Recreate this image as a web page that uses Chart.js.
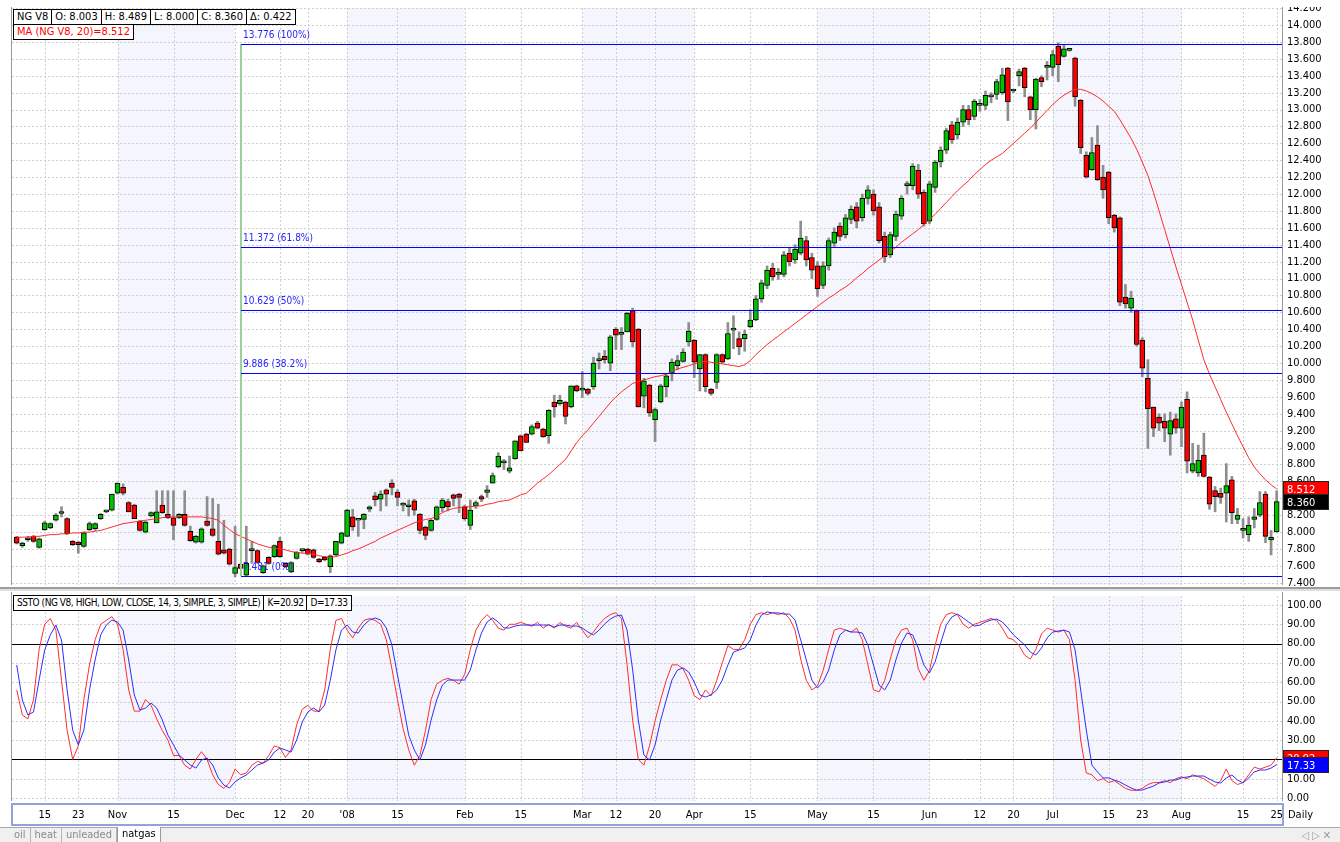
<!doctype html>
<html>
<head>
<meta charset="utf-8">
<title>NG V8 - Daily</title>
<script src="https://cdn.jsdelivr.net/npm/chart.js@4.4.1/dist/chart.umd.min.js"></script>
<style>
  body { margin:0; width:1340px; height:842px; overflow:hidden; position:relative; background:#fff;
         font-family:"Liberation Sans Narrow","DejaVu Sans Condensed","Liberation Sans",sans-serif; font-size:11px; color:#000; }
  canvas { position:absolute; left:0; }
  #price { top:7px; }
  #stoch { top:592px; }
  .hdr { position:absolute; display:flex; height:16px; line-height:14px; border:1px solid #000; background:#fff; box-sizing:border-box; white-space:nowrap; }
  .hdr span { padding:0 3px; border-right:1px solid #000; }
  .hdr span:last-child { border-right:none; }
  #hdr3 { font-size:10px; letter-spacing:-0.45px; }
  #sep { position:absolute; left:0; top:587px; width:1340px; height:2px; background:#9c9c9c; border-bottom:2px solid #dedede; }
  #dateBox { position:absolute; left:11px; top:803px; width:1273px; height:23px; border:2px solid #8ea4dc; box-sizing:border-box; background:#fff; }
  .dl { position:absolute; top:808px; transform:translateX(-50%); }
  #daily { position:absolute; left:1288px; top:808px; }
  #tabs { position:absolute; left:0; top:827px; width:1340px; height:15px; background:#f0f0f0; border-top:1px solid #a8a8a8; }
  #tabRow { position:absolute; left:10px; top:0; display:flex; height:15px; line-height:14px; color:#8a8a8a; white-space:nowrap; }
  #tabRow span { padding:0 4px; border-right:1px solid #b4b4b4; }
  #tabRow span.on { color:#000; background:#fff; border:1px solid #9a9a9a; border-top:none; margin-top:-1px; height:15px; padding:0 4px; }
  #arrows { position:absolute; right:6px; top:1px; color:#999; letter-spacing:3px; }
</style>
</head>
<body>
<canvas id="price" width="1340" height="583"></canvas>
<div id="sep"></div>
<canvas id="stoch" width="1340" height="209"></canvas>
<div class="hdr" id="hdr1" style="left:13px;top:9px;"></div>
<div class="hdr" id="hdr2" style="left:13px;top:24px;color:#ff0000;"></div>
<div class="hdr" id="hdr3" style="left:13px;top:595px;"></div>
<div id="dateBox"></div>
<div id="daily">Daily</div>
<div id="tabs">
  <div id="tabRow"><span>oil</span><span>heat</span><span>unleaded</span><span class="on">natgas</span></div>
  <span id="arrows">&#9665;&#9655;&#10005;</span>
</div>
<script>
// ---- data (NG V8 daily, Oct 2007 - Aug 2008) ----
const open = [
  7.94, 7.84, 7.91, 7.95, 7.82, 8.03, 8.05, 8.14, 8.22, 8.16,
  7.89, 7.88, 7.83, 8.03, 8.04, 8.16, 8.24, 8.26, 8.46, 8.53,
  8.35, 8.32, 8.13, 8.00, 8.19, 8.11, 8.32, 8.21, 8.17, 8.17,
  8.21, 8.01, 7.88, 7.88, 8.13, 8.04, 7.89, 7.79, 7.80, 7.51,
  7.62, 7.49, 7.78, 7.78, 7.52, 7.70, 7.71, 7.89, 7.63, 7.53,
  7.69, 7.78, 7.80, 7.79, 7.68, 7.70, 7.59, 7.73, 7.87, 7.95,
  8.18, 8.14, 8.15, 8.27, 8.43, 8.39, 8.50, 8.58, 8.47, 8.32,
  8.30, 8.37, 8.21, 8.06, 8.02, 8.15, 8.29, 8.36, 8.44, 8.45,
  8.30, 8.08, 8.31, 8.42, 8.47, 8.58, 8.77, 8.82, 8.72, 8.87,
  9.14, 9.16, 9.16, 9.29, 9.22, 9.14, 9.54, 9.52, 9.54, 9.48,
  9.73, 9.68, 9.69, 9.72, 10.03, 10.08, 10.00, 10.40, 10.34, 10.37,
  10.62, 10.40, 9.61, 9.74, 9.33, 9.54, 9.72, 9.88, 9.97, 10.02,
  10.25, 10.27, 9.93, 10.10, 9.69, 9.77, 10.10, 10.05, 10.39, 10.29,
  10.29, 10.43, 10.51, 10.76, 10.92, 11.12, 11.05, 11.05, 11.30, 11.22,
  11.30, 11.45, 11.25, 11.15, 10.92, 11.15, 11.42, 11.62, 11.52, 11.70,
  11.85, 11.72, 11.95, 12.00, 11.85, 11.50, 11.28, 11.50, 11.74, 12.10,
  12.10, 12.28, 12.02, 11.68, 12.08, 12.38, 12.52, 12.82, 12.70, 12.85,
  13.00, 12.92, 13.05, 13.05, 13.15, 13.18, 13.20, 13.49, 13.22, 13.40,
  13.49, 13.15, 13.00, 13.38, 13.50, 13.50, 13.75, 13.63, 13.70, 13.61,
  13.11, 12.46, 12.29, 12.58, 12.20, 12.26, 11.75, 11.72, 10.78, 10.65,
  10.62, 10.27, 9.82, 9.48, 9.36, 9.31, 9.16, 9.34, 9.23, 9.57,
  8.72, 8.70, 8.91, 8.65, 8.49, 8.46, 8.46, 8.62, 8.15, 8.02,
  7.97, 8.15, 8.20, 8.45, 7.906, 8.003
];
const high = [
  7.95, 7.88, 7.95, 7.96, 7.93, 8.13, 8.11, 8.22, 8.30, 8.17,
  7.90, 7.89, 8.00, 8.12, 8.11, 8.22, 8.26, 8.45, 8.58, 8.57,
  8.36, 8.33, 8.14, 8.13, 8.24, 8.49, 8.49, 8.49, 8.49, 8.22,
  8.49, 8.07, 7.96, 8.05, 8.42, 8.40, 8.33, 8.14, 7.81, 8.07,
  7.63, 8.07, 7.89, 7.79, 7.61, 7.71, 7.85, 7.94, 7.64, 7.65,
  7.77, 7.79, 7.81, 7.80, 7.69, 7.71, 7.73, 7.89, 8.00, 8.27,
  8.27, 8.14, 8.22, 8.31, 8.47, 8.49, 8.51, 8.62, 8.50, 8.35,
  8.38, 8.39, 8.22, 8.07, 8.15, 8.31, 8.40, 8.39, 8.45, 8.46,
  8.32, 8.38, 8.37, 8.44, 8.55, 8.70, 8.94, 8.86, 8.90, 9.08,
  9.15, 9.17, 9.27, 9.31, 9.23, 9.45, 9.62, 9.62, 9.55, 9.73,
  9.74, 9.90, 9.70, 10.07, 10.12, 10.15, 10.33, 10.42, 10.42, 10.60,
  10.65, 10.41, 9.82, 9.75, 9.47, 9.75, 9.87, 10.05, 10.09, 10.17,
  10.48, 10.28, 10.10, 10.11, 9.70, 10.11, 10.11, 10.48, 10.56, 10.37,
  10.39, 10.63, 10.80, 10.98, 11.15, 11.18, 11.12, 11.32, 11.36, 11.40,
  11.68, 11.50, 11.30, 11.20, 11.20, 11.48, 11.60, 11.66, 11.76, 11.86,
  11.90, 12.00, 12.10, 12.05, 11.90, 11.55, 11.55, 11.80, 11.98, 12.15,
  12.36, 12.35, 12.05, 12.15, 12.40, 12.56, 12.78, 12.86, 12.90, 13.05,
  13.05, 13.12, 13.12, 13.22, 13.20, 13.36, 13.49, 13.50, 13.24, 13.48,
  13.50, 13.16, 13.37, 13.40, 13.57, 13.70, 13.79, 13.76, 13.71, 13.62,
  13.12, 12.50, 12.67, 12.81, 12.34, 12.27, 11.76, 11.73, 10.93, 10.85,
  10.63, 10.30, 10.04, 9.48, 9.40, 9.40, 9.42, 9.40, 9.54, 9.66,
  9.05, 9.03, 9.17, 8.66, 8.54, 8.52, 8.81, 8.66, 8.28, 8.16,
  8.18, 8.28, 8.48, 8.48, 8.02, 8.489
];
const low = [
  7.86, 7.82, 7.89, 7.88, 7.81, 8.02, 8.04, 8.13, 8.18, 7.97,
  7.84, 7.75, 7.82, 8.02, 8.02, 8.15, 8.23, 8.25, 8.45, 8.44,
  8.24, 8.16, 8.01, 7.99, 8.18, 8.11, 8.22, 8.16, 7.91, 8.16,
  8.07, 7.89, 7.87, 7.87, 8.07, 7.95, 7.73, 7.74, 7.61, 7.47,
  7.56, 7.48, 7.63, 7.63, 7.51, 7.62, 7.70, 7.70, 7.58, 7.52,
  7.68, 7.76, 7.73, 7.69, 7.64, 7.66, 7.52, 7.72, 7.86, 7.95,
  8.02, 7.95, 8.04, 8.24, 8.31, 8.25, 8.31, 8.44, 8.31, 8.25,
  8.19, 8.20, 7.98, 7.91, 8.01, 8.14, 8.24, 8.25, 8.31, 8.23,
  8.14, 8.03, 8.28, 8.36, 8.41, 8.58, 8.76, 8.74, 8.70, 8.86,
  8.96, 9.06, 9.15, 9.22, 9.12, 9.05, 9.36, 9.50, 9.28, 9.47,
  9.66, 9.59, 9.62, 9.69, 9.93, 10.00, 9.91, 10.16, 10.16, 10.37,
  10.19, 9.48, 9.47, 9.37, 9.07, 9.53, 9.60, 9.79, 9.92, 10.01,
  10.20, 9.83, 9.67, 9.66, 9.62, 9.70, 10.00, 10.04, 10.17, 10.10,
  10.14, 10.42, 10.50, 10.72, 10.88, 10.98, 10.99, 11.02, 11.15, 11.18,
  11.28, 11.15, 11.00, 10.79, 10.88, 11.10, 11.38, 11.45, 11.48, 11.65,
  11.60, 11.68, 11.88, 11.75, 11.42, 11.19, 11.25, 11.45, 11.70, 12.00,
  12.05, 11.95, 11.62, 11.65, 12.02, 12.32, 12.48, 12.60, 12.65, 12.80,
  12.82, 12.88, 12.98, 13.00, 13.08, 13.12, 13.18, 12.87, 13.20, 13.28,
  13.15, 12.88, 12.77, 13.27, 13.35, 13.40, 13.33, 13.62, 13.69, 13.04,
  12.48, 12.19, 12.28, 12.16, 11.95, 11.65, 11.55, 10.68, 10.65, 10.60,
  10.20, 9.84, 8.99, 9.13, 9.20, 9.07, 8.91, 9.17, 9.01, 8.70,
  8.70, 8.66, 8.65, 8.27, 8.24, 8.34, 8.12, 8.10, 8.10, 7.93,
  7.89, 8.05, 8.18, 7.875, 7.73, 8.000
];
const close = [
  7.87, 7.87, 7.93, 7.89, 7.92, 8.11, 8.10, 8.20, 8.22, 7.98,
  7.85, 7.85, 7.99, 8.10, 8.10, 8.21, 8.24, 8.45, 8.58, 8.46,
  8.24, 8.16, 8.02, 8.12, 8.23, 8.24, 8.23, 8.17, 8.08, 8.21,
  8.08, 7.90, 7.95, 8.04, 8.08, 7.96, 7.74, 7.75, 7.62, 7.58,
  7.57, 7.63, 7.78, 7.64, 7.60, 7.63, 7.84, 7.71, 7.59, 7.64,
  7.76, 7.78, 7.74, 7.70, 7.65, 7.67, 7.72, 7.89, 7.99, 8.26,
  8.06, 8.14, 8.21, 8.30, 8.38, 8.45, 8.45, 8.53, 8.41, 8.34,
  8.30, 8.26, 8.02, 7.96, 8.14, 8.30, 8.38, 8.30, 8.40, 8.41,
  8.16, 8.26, 8.35, 8.39, 8.50, 8.67, 8.90, 8.82, 8.76, 9.08,
  8.96, 9.06, 9.25, 9.23, 9.13, 9.44, 9.48, 9.56, 9.37, 9.73,
  9.67, 9.68, 9.64, 10.00, 10.03, 10.04, 10.31, 10.33, 10.34, 10.59,
  10.25, 9.48, 9.79, 9.41, 9.45, 9.73, 9.85, 10.01, 10.03, 10.13,
  10.38, 10.01, 10.10, 9.72, 9.64, 10.10, 10.01, 10.35, 10.39, 10.19,
  10.34, 10.51, 10.76, 10.95, 11.10, 11.02, 11.05, 11.28, 11.20, 11.35,
  11.48, 11.22, 11.10, 10.88, 11.15, 11.45, 11.55, 11.50, 11.72, 11.82,
  11.68, 11.95, 12.05, 11.80, 11.45, 11.26, 11.52, 11.76, 11.95, 12.10,
  12.33, 12.00, 11.65, 12.12, 12.38, 12.52, 12.75, 12.64, 12.85, 13.00,
  12.88, 13.10, 13.05, 13.17, 13.15, 13.33, 13.41, 13.09, 13.22, 13.45,
  13.26, 13.00, 13.36, 13.33, 13.50, 13.65, 13.53, 13.72, 13.70, 13.15,
  12.55, 12.20, 12.49, 12.17, 12.05, 11.72, 11.60, 10.72, 10.70, 10.77,
  10.22, 9.94, 9.46, 9.23, 9.29, 9.23, 9.32, 9.23, 9.48, 8.84,
  8.81, 8.85, 8.66, 8.33, 8.42, 8.41, 8.55, 8.23, 8.20, 8.02,
  8.08, 8.18, 8.35, 7.95, 7.938, 8.360
];
// MA (NG V8, 20) as drawn
const ma20 = [
  7.94, 7.94, 7.94, 7.95, 7.95, 7.96, 7.97, 7.97, 7.98, 7.98,
  7.99, 7.99, 8.00, 8.00, 8.01, 8.02, 8.04, 8.06, 8.08, 8.10,
  8.11, 8.12, 8.13, 8.14, 8.15, 8.16, 8.17, 8.18, 8.18, 8.18,
  8.18, 8.18, 8.18, 8.18, 8.17, 8.16, 8.14, 8.08, 8.03, 7.98,
  7.95, 7.92, 7.89, 7.86, 7.84, 7.82, 7.81, 7.80, 7.79, 7.77,
  7.76, 7.75, 7.75, 7.74, 7.72, 7.71, 7.70, 7.71, 7.73, 7.75,
  7.78, 7.80, 7.83, 7.86, 7.89, 7.93, 7.96, 7.99, 8.02, 8.05,
  8.08, 8.11, 8.13, 8.15, 8.16, 8.19, 8.23, 8.26, 8.28, 8.29,
  8.30, 8.30, 8.31, 8.31, 8.33, 8.34, 8.36, 8.37, 8.38, 8.41,
  8.44, 8.46, 8.52, 8.58, 8.63, 8.68, 8.74, 8.80, 8.86, 8.96,
  9.06, 9.14, 9.21, 9.29, 9.37, 9.45, 9.53, 9.60, 9.66, 9.71,
  9.76, 9.78, 9.80, 9.82, 9.84, 9.85, 9.87, 9.90, 9.93, 9.95,
  9.97, 9.99, 10.01, 10.02, 10.01, 10.00, 9.99, 9.98, 9.97, 9.96,
  9.98, 10.03, 10.10, 10.16, 10.22, 10.27, 10.32, 10.37, 10.42, 10.47,
  10.52, 10.57, 10.62, 10.67, 10.72, 10.77, 10.81, 10.86, 10.90, 10.95,
  11.01, 11.06, 11.12, 11.17, 11.22, 11.27, 11.32, 11.37, 11.43, 11.48,
  11.53, 11.58, 11.64, 11.70, 11.76, 11.83, 11.90, 11.97, 12.04, 12.10,
  12.16, 12.23, 12.29, 12.35, 12.40, 12.44, 12.48, 12.54, 12.60, 12.66,
  12.72, 12.78, 12.85, 12.92, 12.99, 13.06, 13.12, 13.17, 13.21, 13.24,
  13.24, 13.22, 13.19, 13.15, 13.10, 13.04, 12.98, 12.88, 12.77, 12.66,
  12.53, 12.38, 12.22, 12.02, 11.80, 11.58, 11.36, 11.14, 10.93, 10.72,
  10.51, 10.27, 10.04, 9.87, 9.72, 9.57, 9.42, 9.28, 9.14, 9.01,
  8.88, 8.77, 8.69, 8.62, 8.56, 8.512
];
// SSTO %K and %D as drawn
const kVals = [
  56, 43, 41, 51, 77, 90, 93, 87, 61, 35,
  20, 27, 51, 69, 82, 90, 92, 94, 90, 77,
  56, 45, 45, 51, 48, 41, 35, 30, 22, 22,
  17, 15, 20, 24, 20, 12, 7, 5, 8, 15,
  12, 13, 17, 19, 18, 22, 27, 26, 21, 25,
  38, 46, 48, 45, 45, 56, 77, 92, 93, 87,
  83, 88, 92, 93, 92, 90, 82, 67, 51, 36,
  25, 17, 22, 35, 51, 59, 61, 62, 61, 59,
  64, 77, 87, 92, 95, 92, 88, 87, 90, 90,
  91, 90, 89, 91, 88, 90, 88, 91, 89, 88,
  91, 87, 83, 86, 90, 93, 95, 96, 93, 69,
  40, 20, 17, 27, 40, 51, 61, 69, 69, 67,
  61, 53, 51, 56, 53, 61, 70, 79, 77, 77,
  82, 90, 95, 96, 95, 96, 95, 96, 93, 87,
  72, 61, 56, 58, 66, 77, 87, 88, 87, 86,
  88, 82, 69, 56, 55, 61, 72, 82, 87, 88,
  82, 67, 61, 66, 79, 90, 95, 96, 95, 90,
  88, 90, 91, 92, 93, 92, 88, 83, 82, 79,
  74, 72, 77, 85, 88, 87, 86, 87, 82, 61,
  30, 13, 12, 9, 10, 8, 9, 7, 5, 4,
  4, 5, 7, 8, 8, 9, 8, 10, 11, 10,
  12, 11, 10, 8, 6, 9, 15, 9, 7, 8,
  12, 16, 15, 16, 17, 20.92
];
const dVals = [
  68.9, 50.8, 43.0, 44.6, 61.1, 76.7, 84.5, 89.6, 81.9, 56.0,
  35.2, 27.5, 35.2, 56.0, 71.5, 84.5, 89.6, 92.2, 91.2, 87.0,
  71.5, 53.4, 45.6, 46.6, 49.2, 46.6, 40.4, 32.6, 27.5, 22.3,
  19.7, 17.1, 15.5, 19.7, 20.7, 17.1, 10.4, 6.7, 5.2, 8.3,
  10.4, 11.9, 14.5, 17.1, 18.1, 19.7, 23.8, 25.9, 24.9, 23.8,
  30.1, 39.4, 44.6, 46.6, 44.6, 48.2, 61.1, 76.7, 87.0, 89.6,
  86.0, 85.5, 89.6, 92.2, 93.3, 92.2, 88.1, 79.3, 63.7, 48.2,
  32.6, 24.9, 19.7, 27.5, 40.4, 50.8, 58.5, 61.1, 61.1, 61.1,
  61.1, 66.3, 76.7, 85.5, 91.2, 93.3, 91.2, 88.1, 88.1, 89.1,
  89.6, 89.6, 89.6, 89.6, 89.6, 89.6, 88.6, 89.6, 89.6, 89.1,
  89.1, 88.1, 86.0, 84.5, 87.0, 90.2, 92.7, 94.3, 94.8, 87.0,
  66.3, 40.4, 22.3, 19.7, 27.5, 40.4, 50.8, 61.1, 66.3, 67.4,
  65.3, 60.1, 53.4, 52.3, 53.4, 56.0, 61.1, 68.9, 75.6, 76.7,
  77.7, 81.9, 89.6, 94.8, 96.4, 95.9, 95.9, 95.3, 95.3, 92.2,
  81.9, 71.5, 61.1, 57.0, 60.1, 66.3, 76.7, 84.5, 87.0, 86.0,
  86.0, 85.5, 79.3, 68.9, 58.5, 56.0, 61.1, 71.5, 80.3, 85.5,
  84.5, 77.7, 68.9, 64.8, 70.5, 80.3, 89.6, 93.8, 95.3, 93.3,
  91.2, 89.1, 89.6, 91.2, 92.2, 92.7, 91.2, 88.1, 84.5, 81.9,
  79.3, 75.6, 74.1, 77.7, 82.9, 86.0, 86.5, 87.0, 86.0, 76.7,
  56.0, 35.2, 17.1, 13.5, 10.4, 10.4, 9.3, 8.3, 6.7, 5.2,
  4.1, 4.1, 5.2, 6.2, 7.8, 8.3, 9.3, 9.3, 10.4, 10.9,
  11.4, 11.4, 11.4, 9.8, 8.3, 7.8, 10.4, 11.9, 9.3, 7.8,
  10.4, 13.5, 14.5, 14.5, 15.5, 17.33
];
// date axis labels and the bar index each one sits on
const dateLabels = ['15','23','Nov','15','Dec','12','20',"'08",'15','Feb','15','Mar','12','20','Apr','15','May','15','Jun','12','20','Jul','15','23','Aug','15','25'];
const dateIdx    = [5, 11, 18, 28, 39, 47, 52, 59, 68, 80, 90, 101, 107, 114, 121, 131, 143, 153, 163, 172, 178, 185, 195, 201, 208, 219, 225];
// shaded months (Nov, Jan, Mar, May, Jul) as bar index ranges
const shadedMonths = [[18, 39], [59, 80], [101, 121], [143, 163], [185, 208]];
// fibonacci retracement
const fibStart = 40;
const fibLevels = [13.776, 11.372, 10.629, 9.886, 7.481];
const fibPct = ['100%', '61.8%', '50%', '38.2%', '0%'];
const stochLevels = [80, 20];

const FONT = '"Liberation Sans Narrow", "DejaVu Sans Condensed", "Liberation Sans", sans-serif';
const GREEN = '#00c000', RED = '#ff0000';
const last = close.length - 1;
const idx = close.map((_, i) => i);

function line(ctx, x0, y0, x1, y1) { ctx.beginPath(); ctx.moveTo(x0, y0); ctx.lineTo(x1, y1); ctx.stroke(); }

function valueBox(chart, v, bg, txt) {
  const {ctx, chartArea: a, scales: {y}} = chart;
  const py = Math.round(y.getPixelForValue(v));
  ctx.save();
  ctx.fillStyle = bg;
  ctx.fillRect(a.right + 1, py - 8, 46, 16);
  ctx.strokeStyle = '#222';
  ctx.strokeRect(a.right + 1.5, py - 7.5, 45, 15);
  ctx.fillStyle = '#fff';
  ctx.font = '11px ' + FONT;
  ctx.textBaseline = 'middle';
  ctx.fillText(txt, a.right + 5, py + 1);
  ctx.restore();
}

// month shading, dotted grid and frame - shared by both panels
const panelBg = {
  id: 'panelBg',
  beforeDatasetsDraw(chart) {
    const {ctx, chartArea: a, scales: {x, y}} = chart;
    ctx.save();
    ctx.beginPath(); ctx.rect(a.left, a.top, a.right - a.left, a.bottom - a.top); ctx.clip();
    ctx.fillStyle = '#f5f6fd';
    shadedMonths.forEach(([s, e]) => {
      const x0 = x.getPixelForValue(s), x1 = x.getPixelForValue(e);
      ctx.fillRect(x0, a.top, x1 - x0, a.bottom - a.top);
    });
    ctx.strokeStyle = '#cfcfcf';
    ctx.lineWidth = 1;
    ctx.setLineDash([2, 2]);
    y.ticks.forEach(t => {
      const py = Math.round(y.getPixelForValue(t.value)) + 0.5;
      line(ctx, a.left, py, a.right, py);
    });
    dateIdx.forEach(i => {
      const px = Math.round(x.getPixelForValue(i)) + 0.5;
      line(ctx, px, a.top, px, a.bottom);
    });
    ctx.restore();
  },
  afterDraw(chart) {
    const {ctx, chartArea: a} = chart;
    ctx.save();
    ctx.strokeStyle = '#9a9a9a';
    ctx.lineWidth = 1;
    line(ctx, a.left - 0.5, 0, a.left - 0.5, a.bottom);
    line(ctx, a.right + 0.5, 0, a.right + 0.5, a.bottom);
    ctx.restore();
  }
};

const fibPlugin = {
  id: 'fib',
  afterDatasetsDraw(chart) {
    const {ctx, chartArea: a, scales: {x, y}} = chart;
    const x0 = Math.round(x.getPixelForValue(fibStart));
    ctx.save();
    ctx.strokeStyle = '#9ccf9c';
    ctx.lineWidth = 2;
    line(ctx, x0, y.getPixelForValue(fibLevels[0]), x0, y.getPixelForValue(fibLevels[fibLevels.length - 1]));
    ctx.strokeStyle = '#0000ff';
    ctx.lineWidth = 1;
    ctx.fillStyle = '#2424ff';
    ctx.font = '10px ' + FONT;
    ctx.textBaseline = 'alphabetic';
    fibLevels.forEach((v, k) => {
      const py = Math.round(y.getPixelForValue(v)) + 0.5;
      line(ctx, x0, py, a.right, py);
      ctx.fillText(v.toFixed(3) + ' (' + fibPct[k] + ')', x0 + 2, py - 7);
    });
    ctx.restore();
  },
  afterDraw(chart) {
    valueBox(chart, ma20[last], '#ff0000', ma20[last].toFixed(3));
    valueBox(chart, close[last], '#000000', close[last].toFixed(3));
  }
};

const stochPlugin = {
  id: 'stochLv',
  beforeDatasetsDraw(chart) {
    const {ctx, chartArea: a, scales: {y}} = chart;
    ctx.save();
    ctx.strokeStyle = '#000';
    ctx.lineWidth = 1;
    stochLevels.forEach(v => {
      const py = Math.round(y.getPixelForValue(v)) + 0.5;
      line(ctx, a.left, py, a.right, py);
    });
    ctx.restore();
  },
  afterDraw(chart) {
    valueBox(chart, kVals[last], '#ff0000', kVals[last].toFixed(2));
    valueBox(chart, dVals[last], '#0000ff', dVals[last].toFixed(2));
  }
};

const xScale = { type: 'linear', min: -0.84, max: 225.95, display: false, offset: false };
function yAxis(min, max, step, digits) {
  return {
    position: 'right', min, max,
    afterFit(s) { s.width = 58; s.paddingTop = 0; s.paddingBottom = 0; },
    grid: { display: false, drawTicks: false },
    border: { display: false },
    ticks: { stepSize: step, includeBounds: false, autoSkip: false, padding: 5, color: '#000',
             font: { family: FONT, size: 11 }, callback: v => Number(v).toFixed(digits) }
  };
}

Chart.defaults.font.family = FONT;

new Chart(document.getElementById('price'), {
  type: 'bar',
  data: {
    datasets: [
      { type: 'line', label: 'MA', data: idx.map(i => ({x: i, y: ma20[i]})),
        borderColor: '#ff2a2a', borderWidth: 1, pointRadius: 0, tension: 0, order: 1 },
      { label: 'body', data: idx.map(i => ({x: i, y: [open[i], close[i]]})),
        backgroundColor: idx.map(i => close[i] >= open[i] ? GREEN : RED),
        borderColor: '#000', borderWidth: 1, borderSkipped: false,
        barThickness: 5, minBarLength: 2, grouped: false, order: 2 },
      { label: 'wick', data: idx.map(i => ({x: i, y: [low[i], high[i]]})),
        backgroundColor: '#8e8e8e', barThickness: 2, grouped: false, order: 3 }
    ]
  },
  options: {
    responsive: false, animation: false, events: [],
    layout: { padding: { left: 12, top: 1, right: 0, bottom: 5 } },
    plugins: { legend: { display: false }, tooltip: { enabled: false } },
    scales: { x: xScale, y: yAxis(7.374, 14.202, 0.2, 3) }
  },
  plugins: [panelBg, fibPlugin]
});

const stochChart = new Chart(document.getElementById('stoch'), {
  type: 'line',
  data: {
    datasets: [
      { label: 'K', data: idx.map(i => ({x: i, y: kVals[i]})), borderColor: '#ff2d2d', borderWidth: 1, pointRadius: 0, tension: 0, order: 2 },
      { label: 'D', data: idx.map(i => ({x: i, y: dVals[i]})), borderColor: '#2d2dff', borderWidth: 1, pointRadius: 0, tension: 0, order: 1 }
    ]
  },
  options: {
    responsive: false, animation: false, events: [],
    layout: { padding: { left: 12, top: 4, right: 0, bottom: 0 } },
    plugins: { legend: { display: false }, tooltip: { enabled: false } },
    scales: { x: xScale, y: yAxis(-1.55, 104.66, 10, 2) }
  },
  plugins: [panelBg, stochPlugin]
});

// header boxes
function fillHdr(id, parts) {
  document.getElementById(id).innerHTML = parts.map(p => '<span>' + p + '</span>').join('');
}
const delta = close[last] - close[last - 1];
fillHdr('hdr1', ['NG V8', 'O: ' + open[last].toFixed(3), 'H: ' + high[last].toFixed(3),
                 'L: ' + low[last].toFixed(3), 'C: ' + close[last].toFixed(3), '&Delta;: ' + delta.toFixed(3)]);
fillHdr('hdr2', ['MA (NG V8, 20)=' + ma20[last].toFixed(3)]);
fillHdr('hdr3', ['SSTO (NG V8, HIGH, LOW, CLOSE, 14, 3, SIMPLE, 3, SIMPLE)',
                 'K=' + kVals[last].toFixed(2), 'D=' + dVals[last].toFixed(2)]);

// date axis labels, placed through the chart's x scale
const xs = stochChart.scales.x;
dateLabels.forEach((t, k) => {
  const d = document.createElement('div');
  d.className = 'dl';
  d.textContent = t;
  d.style.left = xs.getPixelForValue(dateIdx[k]) + 'px';
  document.body.appendChild(d);
});
</script>
</body>
</html>
